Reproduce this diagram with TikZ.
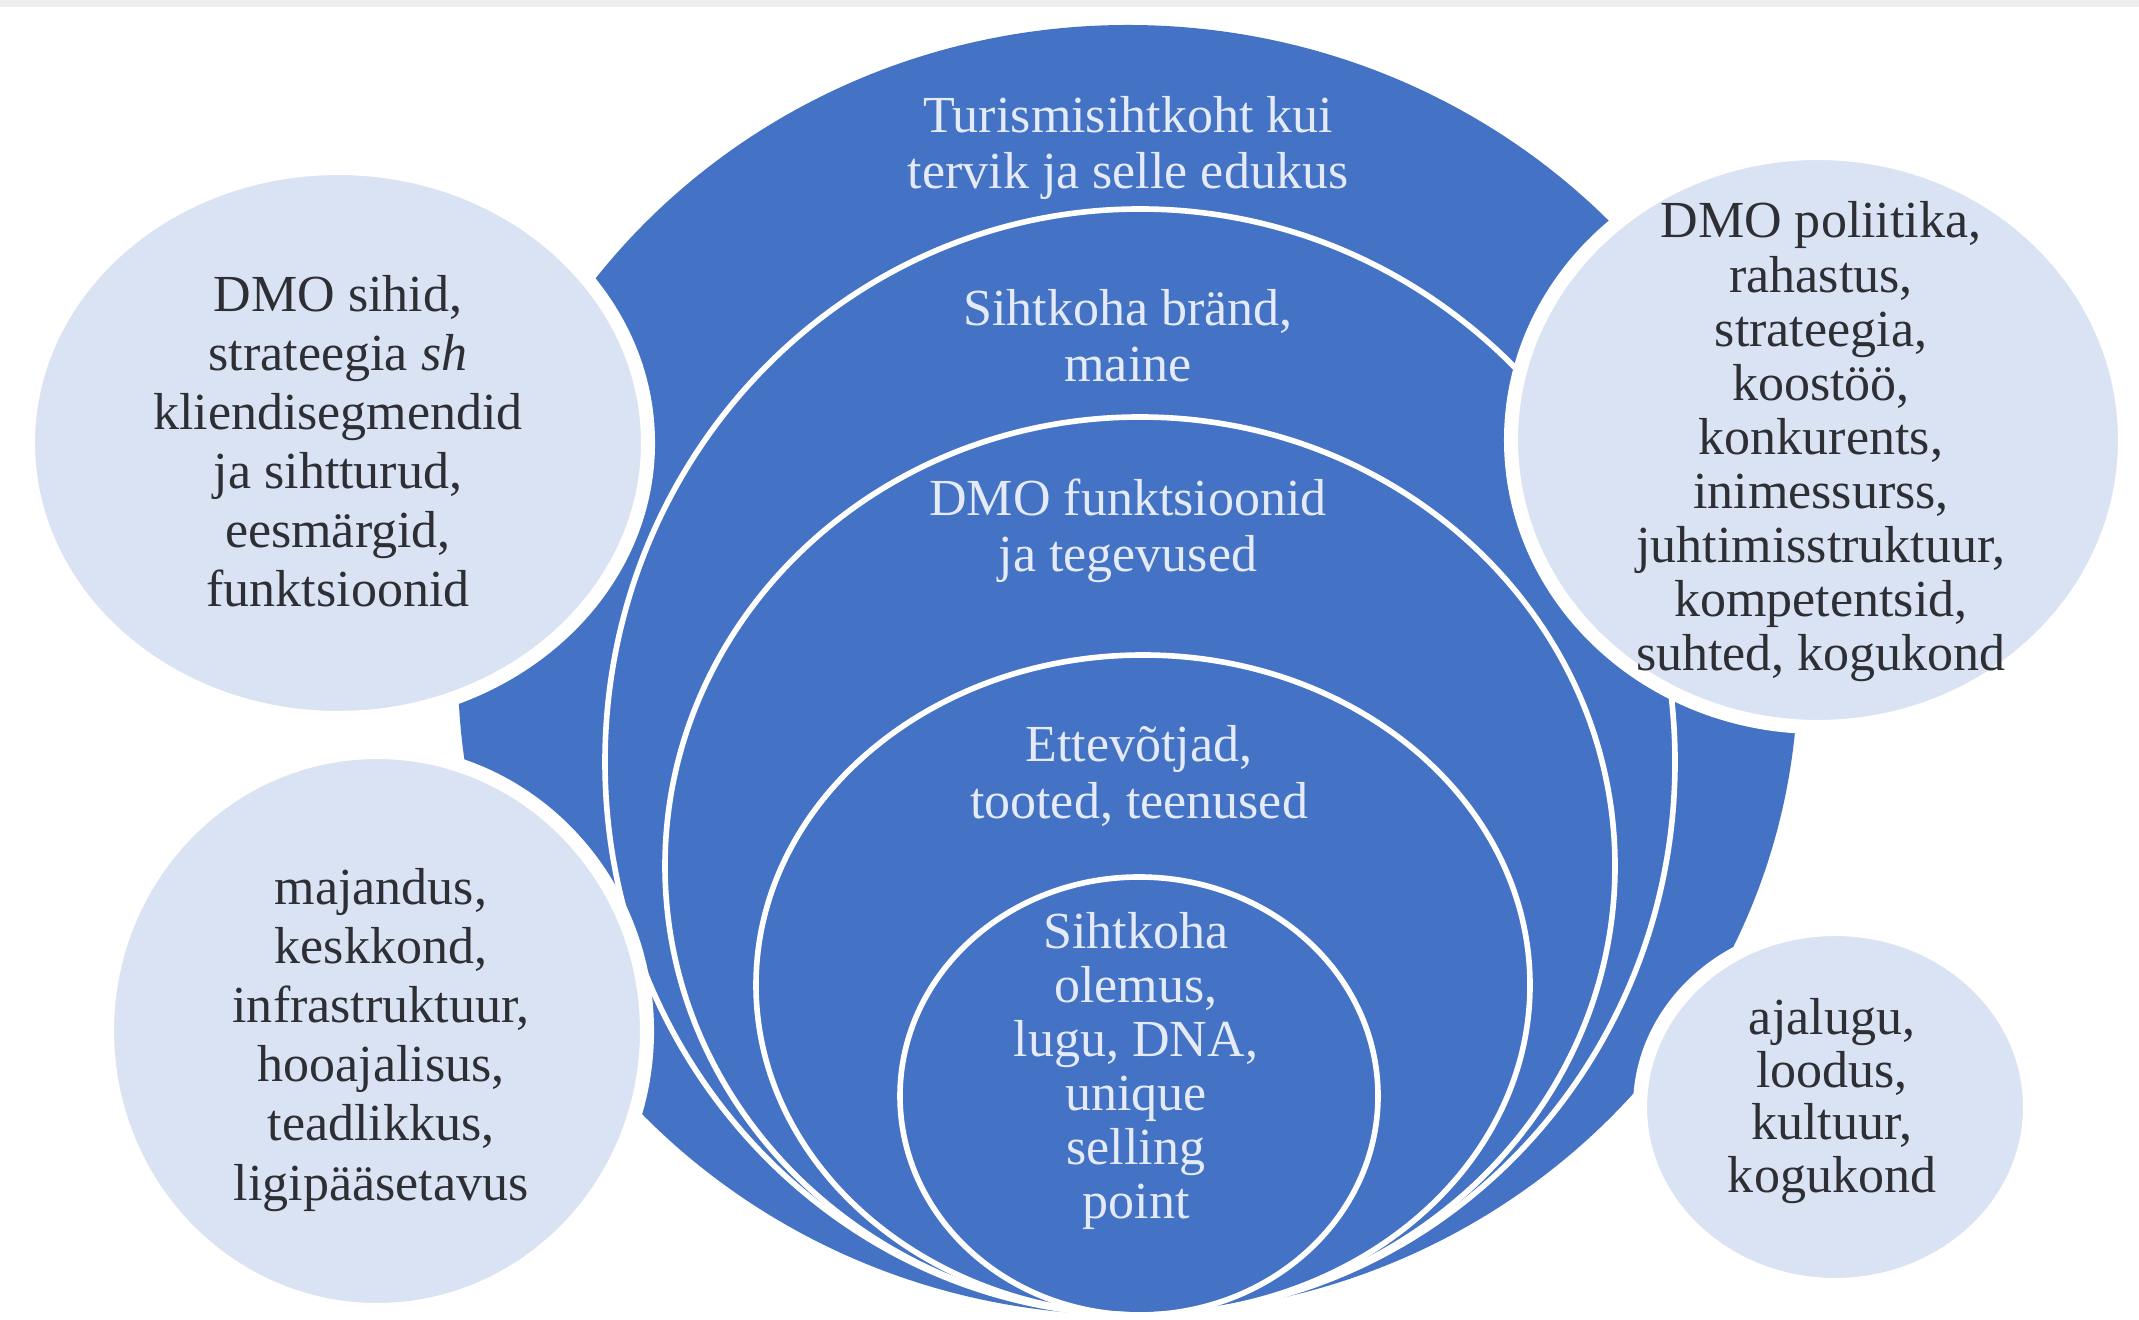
\documentclass[tikz,border=0pt]{standalone}
\usepackage{fontspec}
\setmainfont{Liberation Serif}
\usepackage{tikz}
\definecolor{ringblue}{HTML}{4472C4}
\definecolor{paleblue}{HTML}{DAE3F3}
\definecolor{ringtext}{HTML}{E4EBF7}
\definecolor{darktext}{HTML}{2E2F35}
\definecolor{topstrip}{HTML}{EEEFF1}

\begin{document}
\begin{tikzpicture}[
    ring/.style={draw=white, line width=1.6pt},
    bubble/.style={fill=paleblue, draw=white, line width=4pt},
    bubbletext/.style={align=center, text=darktext, inner sep=0pt},
    ringlabel/.style={align=center, text=ringtext, inner sep=0pt}]
    \useasboundingbox (0,0) rectangle (21.39,13.19);
    %Taust
    \fill[white] (0,0) rectangle (21.39,13.19);
    \fill[topstrip] (0,13.12) rectangle (21.39,13.19);
    %Sihtkoha rõngad
    \fill[ringblue] (11.28,6.49) ellipse [x radius=6.70, y radius=6.45];
    \draw[ring] (11.40,5.57) ellipse [x radius=5.35, y radius=5.53];
    \draw[ring] (11.40,4.53) ellipse [x radius=4.75, y radius=4.49];
    \draw[ring] (11.43,3.34) ellipse [x radius=3.87, y radius=3.30];
    \draw[ring] (11.39,2.23) ellipse [x radius=2.39, y radius=2.19];
    %Rõngaste tekstid
    \node[ringlabel, font=\fontsize{14.8}{16}\selectfont] (tervik) at (11.28,11.71)
        {Turismisihtkoht kui\\tervik ja selle edukus};
    \node[ringlabel, font=\fontsize{14.8}{16}\selectfont] (brand) at (11.28,9.83)
        {Sihtkoha bränd,\\maine};
    \node[ringlabel, font=\fontsize{14.8}{16}\selectfont] (funktsioonid) at (11.28,7.88)
        {DMO funktsioonid\\ja tegevused};
    \node[ringlabel, font=\fontsize{14.8}{16}\selectfont] (ettevotjad) at (11.39,5.43)
        {Ettevõtjad,\\tooted, teenused};
    \node[ringlabel, font=\fontsize{14.8}{15.4}\selectfont] (olemus) at (11.36,2.48)
        {Sihtkoha\\olemus,\\lugu, DNA,\\unique\\selling\\point};
    %Mullid
    \draw[bubble] (3.38,8.76) ellipse [x radius=3.10, y radius=2.75];
    \draw[bubble] (3.77,2.88) ellipse [x radius=2.70, y radius=2.79];
    \draw[bubble] (18.18,8.79) ellipse [x radius=3.07, y radius=2.87];
    \draw[bubble] (18.35,2.12) ellipse [x radius=1.95, y radius=1.78];
    %Mullide tekstid
    \node[bubbletext, font=\fontsize{14.8}{16.8}\selectfont] (sihid) at (3.38,8.78)
        {DMO sihid,\\strateegia \textit{sh}\\kliendisegmendid\\ja sihtturud,\\eesmärgid,\\funktsioonid};
    \node[bubbletext, font=\fontsize{14.8}{16.8}\selectfont] (majandus) at (3.81,2.79)
        {majandus,\\keskkond,\\infrastruktuur,\\hooajalisus,\\teadlikkus,\\ligipääsetavus};
    \node[bubbletext, font=\fontsize{14.8}{15.4}\selectfont] (poliitika) at (18.21,8.77)
        {DMO poliitika,\\rahastus,\\strateegia,\\koostöö,\\konkurents,\\inimessurss,\\juhtimisstruktuur,\\kompetentsid,\\suhted, kogukond};
    \node[bubbletext, font=\fontsize{14.8}{15}\selectfont] (ajalugu) at (18.32,2.18)
        {ajalugu,\\loodus,\\kultuur,\\kogukond};
\end{tikzpicture}
\end{document}
